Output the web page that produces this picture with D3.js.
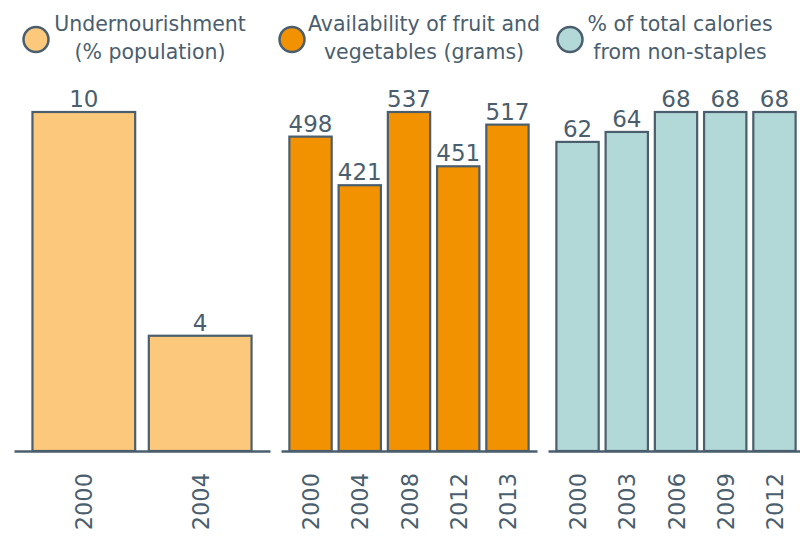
<!DOCTYPE html>
<html>
<head>
<meta charset="utf-8">
<script src="https://cdn.jsdelivr.net/npm/d3@7"></script>
<style>
  body { margin: 0; background: #fff; }
  text { font-family: "DejaVu Sans", sans-serif; fill: #4a5e6e; }
</style>
</head>
<body>
<div id="main"></div>
<script>
// data
var underYears = ["2000", "2004"];
var underValues = [10, 3.4];
var underLabels = ["10", "4"];

var fruitYears = ["2000", "2004", "2008", "2012", "2013"];
var fruitValues = [498, 421, 537, 451, 517];
var fruitLabels = ["498", "421", "537", "451", "517"];

var calYears = ["2000", "2003", "2006", "2009", "2012"];
var calValues = [62, 64, 68, 68, 68];
var calLabels = ["62", "64", "68", "68", "68"];

var legendNames = [
    ["Undernourishment", "(% population)"],
    ["Availability of fruit and", "vegetables (grams)"],
    ["% of total calories", "from non-staples"]
];

var ctx = {
    w: 800,
    h: 536,
    base: 451,
    top: 112,
    ink: "#4a5e6e",
    colors: ["#fcc87b", "#f39200", "#b2d8d7"]
};

var svg = d3.select("#main").append("svg")
    .attr("width", ctx.w)
    .attr("height", ctx.h);

var panels = [
    { years: underYears, values: underValues, labels: underLabels, x0: 14, x1: 270 },
    { years: fruitYears, values: fruitValues, labels: fruitLabels, x0: 281, x1: 537 },
    { years: calYears, values: calValues, labels: calLabels, x0: 548, x1: 804 }
];

panels.forEach(function(p, k) {
    var x = d3.scaleBand().domain(p.years).range([p.x0, p.x1])
        .paddingInner(0.1).paddingOuter(0.15);
    var y = d3.scaleLinear().domain([0, d3.max(p.values)]).range([ctx.base, ctx.top]);
    var rows = p.years.map(function(yr, i) { return { year: yr, v: p.values[i], lab: p.labels[i] }; });

    var g = svg.append("g");
    g.selectAll("rect")
        .data(rows)
        .enter()
        .append("rect")
        .attr("x", function(d) { return x(d.year) + 1; })
        .attr("width", x.bandwidth() - 2)
        .attr("y", function(d) { return y(d.v); })
        .attr("height", function(d) { return ctx.base - y(d.v); })
        .style("fill", ctx.colors[k])
        .style("stroke", ctx.ink)
        .style("stroke-width", 2.2);

    g.selectAll("text.val")
        .data(rows)
        .enter()
        .append("text")
        .attr("class", "val")
        .attr("x", function(d) { return x(d.year) + x.bandwidth() / 2; })
        .attr("y", function(d) { return y(d.v) - 5; })
        .attr("text-anchor", "middle")
        .style("font-size", "23px")
        .text(function(d) { return d.lab; });

    // axis: only the baseline and the rotated years
    var ax = svg.append("g")
        .attr("transform", "translate(0," + ctx.base + ")")
        .call(d3.axisBottom(x).tickSize(0).tickSizeOuter(0));
    ax.select(".domain").style("stroke", ctx.ink).style("stroke-width", 2.5);
    ax.selectAll(".tick text")
        .attr("transform", "rotate(-90)")
        .attr("x", -22)
        .attr("y", 0)
        .attr("dy", "0.38em")
        .attr("text-anchor", "end")
        .style("font-family", "DejaVu Sans, sans-serif")
        .style("font-size", "22.5px")
        .style("fill", ctx.ink);
});

// legend
var legendPos = [{ cx: 36, tx: 150 }, { cx: 292, tx: 424 }, { cx: 570, tx: 680 }];
legendNames.forEach(function(lines, k) {
    var lg = svg.append("g");
    lg.append("circle")
        .attr("cx", legendPos[k].cx)
        .attr("cy", 39.5)
        .attr("r", 12.5)
        .style("fill", ctx.colors[k])
        .style("stroke", ctx.ink)
        .style("stroke-width", 2.5);
    lg.selectAll("text")
        .data(lines)
        .enter()
        .append("text")
        .attr("x", legendPos[k].tx)
        .attr("y", function(d, i) { return 31 + i * 28; })
        .attr("text-anchor", "middle")
        .style("font-size", "20.5px")
        .text(function(d) { return d; });
});
</script>
</body>
</html>
